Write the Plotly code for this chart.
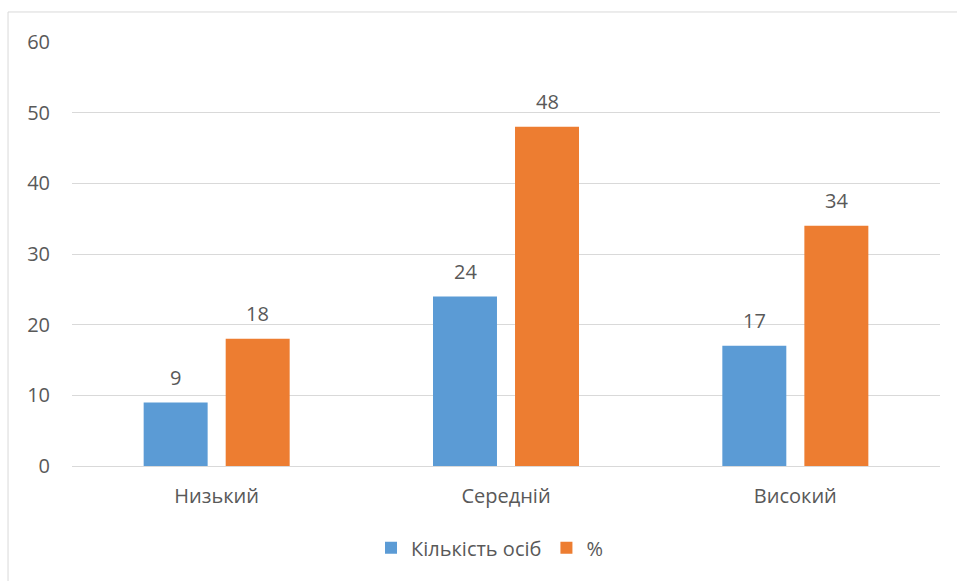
import plotly.graph_objects as go

categories = ["Низький", "Середній", "Високий"]
count_values = [9, 24, 17]
percent_values = [18, 48, 34]
series_names = ["Кількість осіб", "%"]
y_ticks = [0, 10, 20, 30, 40, 50, 60]

BLUE = "#5B9BD5"
ORANGE = "#ED7D31"
TXT = "#595959"
GRID = "#D9D9D9"
FONT = "Open Sans"
FS = 20

fig = go.Figure()
fig.add_trace(go.Bar(x=categories, y=count_values, name=series_names[0],
                     marker=dict(color=BLUE, line=dict(width=0))))
fig.add_trace(go.Bar(x=categories, y=percent_values, name=series_names[1],
                     marker=dict(color=ORANGE, line=dict(width=0))))

annotations = []
for vals, shift in ((count_values, -41), (percent_values, 41)):
    for c, v in zip(categories, vals):
        annotations.append(dict(x=c, y=v, xref="x", yref="y", text=str(v),
                                showarrow=False, xshift=shift, yshift=25,
                                font=dict(family=FONT, size=FS, color=TXT)))

fig.update_layout(
    width=957, height=581,
    margin=dict(l=72, r=17, t=42, b=115),
    paper_bgcolor="white", plot_bgcolor="white",
    barmode="group", bargap=0.433, bargroupgap=0.22,
    font=dict(family=FONT, size=FS, color=TXT),
    showlegend=True,
    legend=dict(orientation="h", x=0.481, xanchor="center", y=-0.193, yanchor="middle",
                font=dict(family=FONT, size=FS, color=TXT), itemwidth=30,
                traceorder="normal"),
    annotations=annotations,
    shapes=[dict(type="rect", xref="paper", yref="paper",
                 x0=-0.0737, x1=1.2, y0=-0.6, y1=1.0708,
                 line=dict(color=GRID, width=1), layer="below")],
)
fig.update_yaxes(range=[0, 60], tickvals=y_ticks, showgrid=True, gridcolor=GRID,
                 gridwidth=1, zeroline=True, zerolinecolor=GRID, zerolinewidth=1,
                 showline=False, ticks="", ticklabelstandoff=21,
                 tickfont=dict(family=FONT, size=FS, color=TXT))
fig.update_xaxes(showgrid=False, showline=False, ticks="", ticklabelstandoff=16,
                 tickfont=dict(family=FONT, size=FS, color=TXT))

fig.write_html("out.html")
